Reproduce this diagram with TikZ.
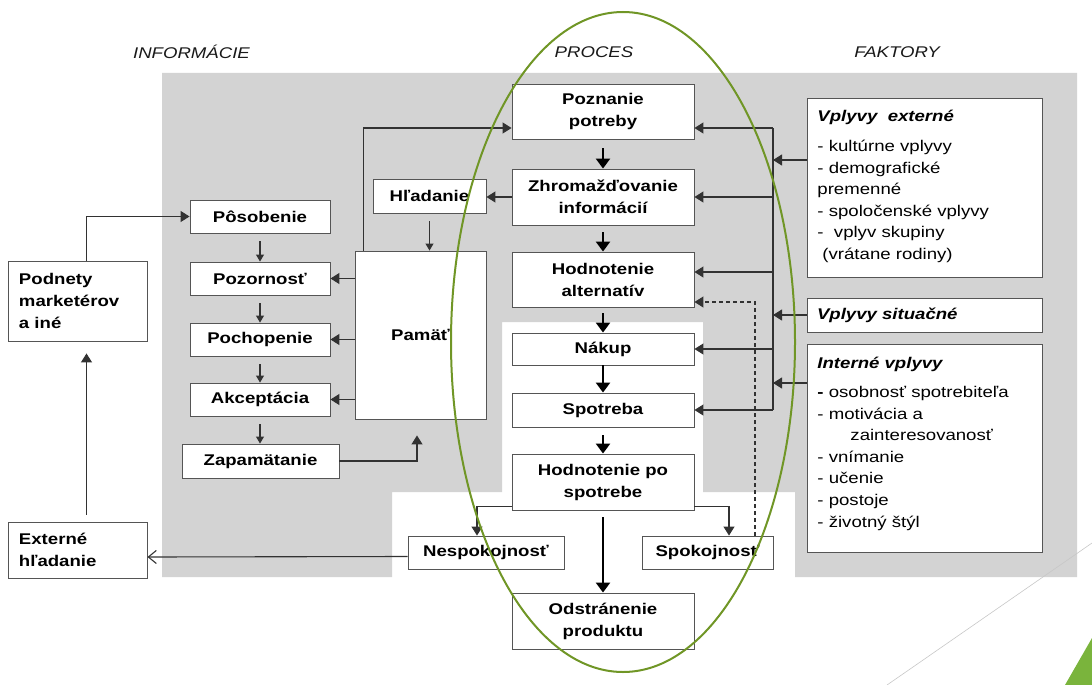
\documentclass[tikz,border=0pt]{standalone}
\usepackage{fontspec}
\setmainfont{Liberation Sans}[FakeStretch=1.2]
\usetikzlibrary{arrows.meta}

\definecolor{panelgray}{RGB}{211,211,211}
\definecolor{linegray}{RGB}{50,50,50}
\definecolor{boxline}{RGB}{85,85,85}
\definecolor{ringgreen}{RGB}{112,150,38}
\definecolor{slidegreen}{RGB}{122,180,60}

\begin{document}
\begin{tikzpicture}[x=1pt, y=-1pt,
  stagebox/.style={draw=boxline, fill=white, line width=0.9pt, inner sep=0pt, align=center,
    font=\fontsize{15.5}{22}\selectfont\bfseries},
  factorbox/.style={draw=boxline, fill=white, line width=0.9pt, inner sep=0pt},
  conn/.style={draw=linegray, line width=1.1pt},
  arr/.style={conn, -{Triangle[width=11pt,length=9pt]}},
  sarr/.style={conn, -{Triangle[width=8pt,length=7pt]}},
  parr/.style={draw=black, line width=2.6pt, -{Triangle[width=14pt,length=10pt]}},
  oarr/.style={conn, -{Straight Barb[width=13pt,length=8pt]}},
  colhead/.style={font=\fontsize{15.5}{20}\selectfont\itshape, text=black!90},
]
  \useasboundingbox (0,0) rectangle (1092,685);

  % -------- background panel --------
  \fill[panelgray] (162,73) -- (1077,73) -- (1077,577) -- (795,577) -- (795,492)
    -- (703,492) -- (703,322) -- (502,322) -- (502,492) -- (392,492)
    -- (392,577) -- (162,577) -- cycle;

  % -------- column heads --------
  \node[colhead] (hinfo) at (191.5,52) {INFORMÁCIE};
  \node[colhead] (hproc) at (594,52) {PROCES};
  \node[colhead] (hfakt) at (897,52) {FAKTORY};

  % -------- left: stimuli --------
  \node[stagebox, align=left, text width=117pt, inner xsep=11pt, minimum height=80pt] (podnety)
    at (77.5,301) {Podnety\\marketérov\\a iné};
  \node[stagebox, align=left, text width=117pt, inner xsep=11pt, minimum height=56pt] (externe)
    at (77.5,550) {Externé\\hľadanie};

  % -------- information processing --------
  \node[stagebox, minimum width=140pt, minimum height=33pt] (posobenie) at (260,216.5) {Pôsobenie};
  \node[stagebox, minimum width=140pt, minimum height=33pt] (pozornost) at (260,278.5) {Pozornosť};
  \node[stagebox, minimum width=140pt, minimum height=33pt] (pochopenie) at (260,339.5) {Pochopenie};
  \node[stagebox, minimum width=140pt, minimum height=33pt] (akceptacia) at (260,399.5) {Akceptácia};
  \node[stagebox, minimum width=157pt, minimum height=34pt] (zapamatanie) at (260.5,461) {Zapamätanie};
  \node[stagebox, minimum width=113pt, minimum height=34pt] (hladanie) at (429.5,196) {Hľadanie};
  \node[stagebox, minimum width=131pt, minimum height=168pt] (pamat) at (420.5,335) {Pamäť};

  % -------- process --------
  \node[stagebox, minimum width=182pt, minimum height=55pt] (poznanie) at (603,111.5) {Poznanie\\potreby};
  \node[stagebox, minimum width=182pt, minimum height=56pt] (zhrom) at (603,197) {Zhromažďovanie\\informácií};
  \node[stagebox, minimum width=182pt, minimum height=55pt] (hodalt) at (603,279.5) {Hodnotenie\\alternatív};
  \node[stagebox, minimum width=182pt, minimum height=32pt] (nakup) at (603,349) {Nákup};
  \node[stagebox, minimum width=182pt, minimum height=34pt] (spotreba) at (603,410) {Spotreba};
  \node[stagebox, minimum width=182pt, minimum height=56pt] (hodpo) at (603,482) {Hodnotenie po\\spotrebe};
  \node[stagebox, minimum width=182pt, minimum height=56pt] (odstran) at (603,621) {Odstránenie\\produktu};
  \node[stagebox, minimum width=156pt, minimum height=33pt] (nespok) at (486,552.5) {Nespokojnosť};
  \node[stagebox, minimum width=131pt, minimum height=33pt] (spok) at (707.5,552.5) {Spokojnosť};

  % -------- factors --------
  \node[factorbox, inner xsep=10pt, anchor=north west] (vext) at (807,98) {%
    \begin{minipage}[c][179pt][t]{215pt}
      \raggedright\fontsize{15.5}{21.6}\selectfont\mdseries
      \vspace*{12pt}
      {\bfseries\itshape Vplyvy\ \ externé}\\[8pt]
      - kultúrne vplyvy\\
      - demografické\\
      premenné\\
      - spoločenské vplyvy\\
      -\ \ vplyv skupiny\\
      \hspace*{5pt}(vrátane rodiny)
    \end{minipage}};
  \node[factorbox, align=left, text width=215pt, inner xsep=10pt, minimum height=34pt,
    font=\fontsize{15.5}{21.6}\selectfont\bfseries\itshape] (vsit) at (924.5,315) {Vplyvy situačné};
  \node[factorbox, inner xsep=10pt, anchor=north west] (vint) at (807,344) {%
    \begin{minipage}[c][208pt][t]{215pt}
      \raggedright\fontsize{15.5}{21.6}\selectfont\mdseries
      \vspace*{13pt}
      {\bfseries\itshape Interné vplyvy}\\[7pt]
      {\bfseries -} osobnosť spotrebiteľa\\
      - motivácia a\\
      \hspace*{33pt}zainteresovanosť\\
      - vnímanie\\
      - učenie\\
      - postoje\\
      - životný štýl
    \end{minipage}};

  % -------- connectors: information --------
  \draw[arr] ([xshift=9pt]podnety.north) |- (posobenie.west);
  \draw[arr] ([xshift=9pt,yshift=7pt]externe.north) -- ([xshift=9pt,yshift=-12pt]podnety.south);
  \foreach \a/\b in {posobenie/pozornost, pozornost/pochopenie, pochopenie/akceptacia, akceptacia/zapamatanie}
    \draw[sarr] ([yshift=-8pt]\a.south) -- (\a.south |- \b.north);
  \draw[sarr] ([yshift=-8pt]hladanie.south) -- (hladanie.south |- pamat.north);
  \foreach \t in {pozornost, pochopenie, akceptacia}
    \draw[arr] (pamat.west |- \t.east) -- (\t.east);
  \draw[arr] ([xshift=9pt]pamat.north west) |- ([yshift=-16.5pt]poznanie.west);
  \draw[arr] (zapamatanie.east) -| ([xshift=-3.5pt,yshift=-16pt]pamat.south);
  \draw[arr] (zhrom.west) -- (zhrom.west -| hladanie.east);

  % -------- connectors: process --------
  \foreach \a/\b/\g in {poznanie/zhrom/9, zhrom/hodalt/7, hodalt/nakup/6, nakup/spotreba/0, spotreba/hodpo/8, hodpo/odstran/7}
    \draw[parr] ([yshift=-\g pt]\a.south) -- (\b.north);
  \draw[arr] ([yshift=4pt]hodpo.south west) -| ([xshift=-9pt]nespok.north);
  \draw[arr] ([yshift=4pt]hodpo.south east) -| ([xshift=21.5pt]spok.north);
  \draw[arr, dash pattern=on 4pt off 3pt] ([xshift=47.5pt]spok.north) |- ([yshift=-22.5pt]hodalt.east);
  \draw[oarr] ([yshift=-4pt]nespok.west) -- ([yshift=-7pt]externe.east);

  % -------- connectors: factors --------
  \coordinate (bustop) at (773,128);
  \coordinate (busbot) at (773,410);
  \coordinate (altin) at ([yshift=7.5pt]hodalt.east);
  \coordinate (extin) at ([yshift=-62pt]vext.north west);
  \coordinate (intin) at ([yshift=-39pt]vint.north west);
  \draw[conn] (bustop) -- (busbot);
  \draw[arr] (bustop) -- ([yshift=-16.5pt]poznanie.east);
  \draw[arr] (bustop |- zhrom.east) -- (zhrom.east);
  \draw[arr] (bustop |- altin) -- (altin);
  \draw[arr] (bustop |- nakup.east) -- (nakup.east);
  \draw[arr] (busbot) -- (spotreba.east);
  \draw[arr] (extin) -- (extin -| bustop);
  \draw[arr] (vsit.west) -- (vsit.west -| bustop);
  \draw[arr] (intin) -- (intin -| bustop);

  % -------- process ring --------
  \draw[ringgreen, line width=2pt] (623,342) ellipse [x radius=172pt, y radius=330pt];

  % -------- slide corner --------
  \draw[black!22, line width=0.6pt] (1092,543) -- (887,685);
  \fill[slidegreen] (1065,685) -- (1092,638) -- (1092,685) -- cycle;
\end{tikzpicture}
\end{document}
